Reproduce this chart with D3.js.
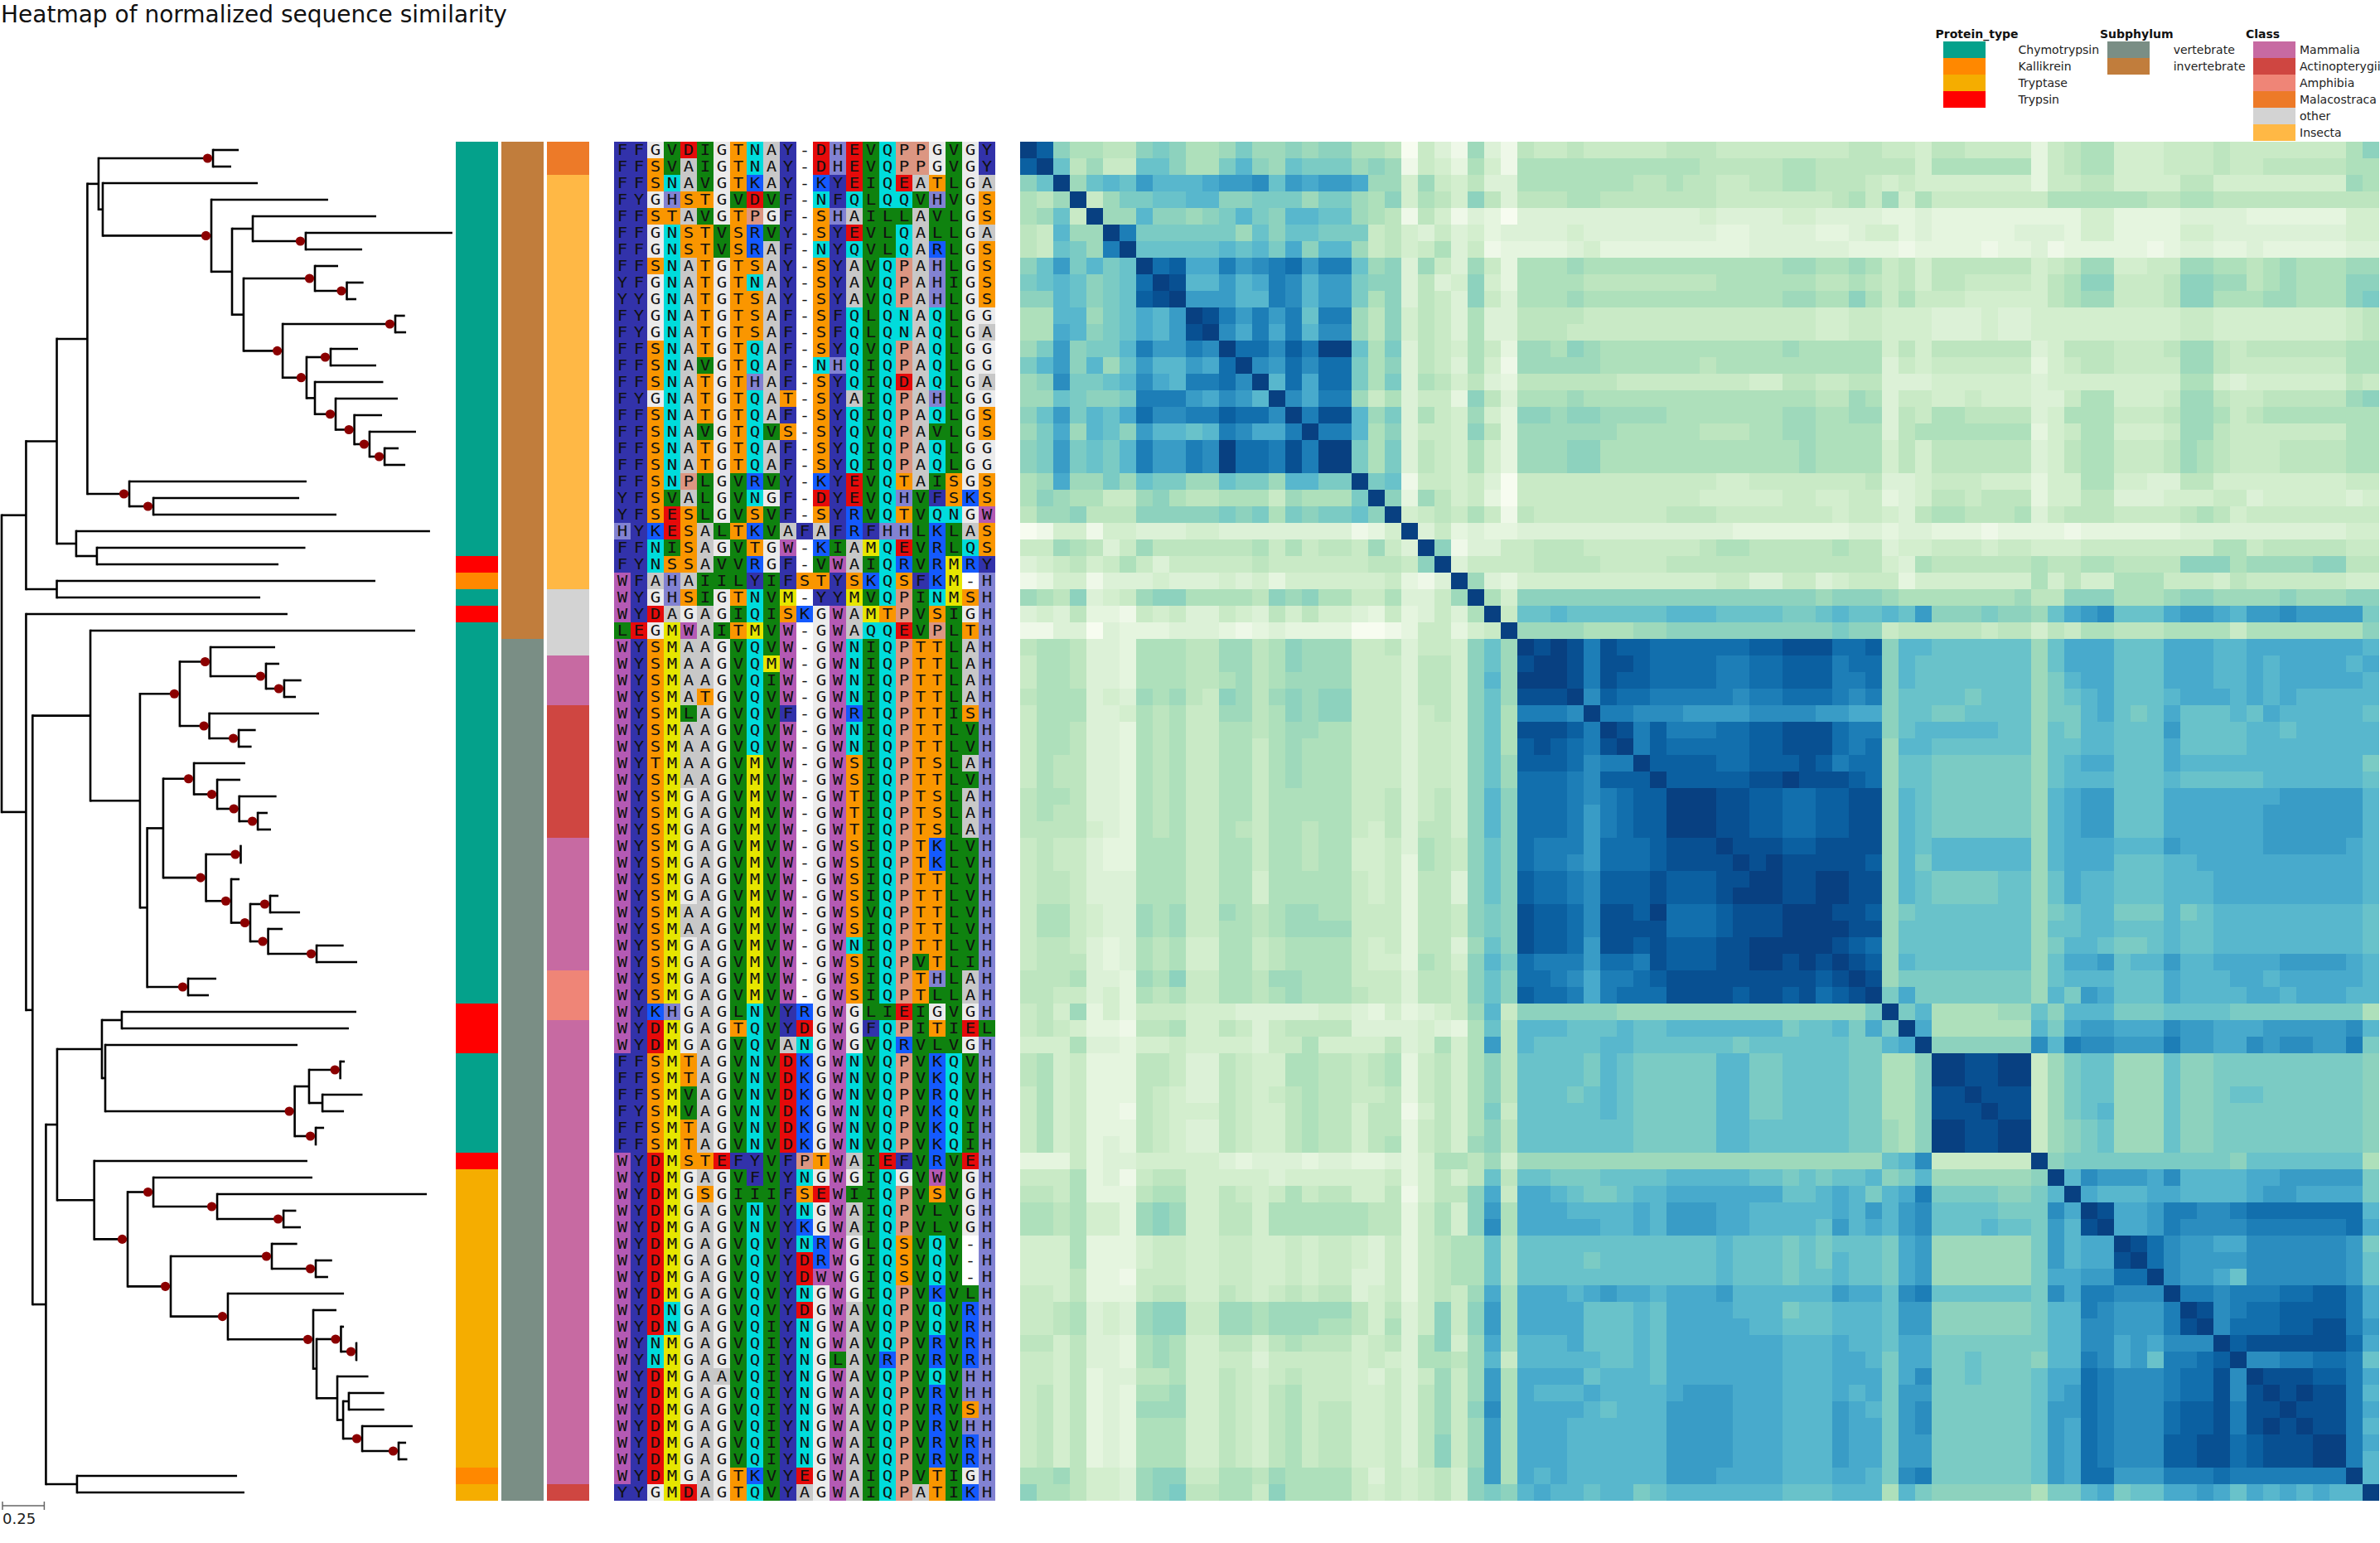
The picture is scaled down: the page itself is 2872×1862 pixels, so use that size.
<!DOCTYPE html>
<html>
<head>
<meta charset="utf-8">
<script src="https://d3js.org/d3.v7.min.js"></script>
<style>
  body { margin: 0; background: #fff; }
  svg { display: block; }
</style>
</head>
<body>
<script>
// alignment, one string per row, top to bottom
var msaRows = [
"FFGVDIGTNAY-DHEVQPPGVGY","FFSVAIGTNAY-DHEVQPPGVGY","FFSNAVGTKAY-KYEIQEATLGA","FYGHSTGVDVF-NFQLQQVHVGS",
"FFSTAVGTPGF-SHAILLAVLGS","FFGNSTVSRVY-SYEVLQALLGA","FFGNSTVSRAF-NYQVLQARLGS","FFSNATGTSAY-SYAVQPAHLGS",
"YFGNATGTNAY-SYAVQPAHIGS","YYGNATGTSAY-SYAVQPAHLGS","FYGNATGTSAF-SFQLQNAQLGG","FYGNATGTSAF-SFQLQNAQLGA",
"FFSNATGTQAF-SYQVQPAQLGG","FFSNAVGTQAF-NHQIQPAQLGG","FFSNATGTHAF-SYQIQDAQLGA","FYGNATGTQAT-SYAIQPAHLGG",
"FFSNATGTQAF-SYQIQPAQLGS","FFSNAVGTQVS-SYQVQPAVLGS","FFSNATGTQAF-SYQIQPAQLGG","FFSNATGTQAF-SYQIQPAQLGG",
"FFSNPLGVRVY-KYEVQTAISGS","YFSVALGVNGF-DYEVQHVFSKS","YFSESLGVSVF-SYRVQTVQNGW","HYKESALTKVAFAFRFHHLKLAS",
"FFNISAGVTGW-KIAMQEVRLQS","FYNSSAVVRGF-VWAIQRVRMRY","WFAHAIILYIFSTYSKQSFKM-H","WYGHSIGTNVM-YYMVQPINMSH",
"WYDAGAGIQISKGWAMTPVSIGH","LEGMWAITMVW-GWAQQEVPLTH","WYSMAAGVQVW-GWNIQPTTLAH","WYSMAAGVQMW-GWNIQPTTLAH",
"WYSMAAGVQIW-GWNIQPTTLAH","WYSMATGVQVW-GWNIQPTTLAH","WYSMLAGVQVF-GWRIQPTTISH","WYSMAAGVQVW-GWNIQPTTLVH",
"WYSMAAGVQVW-GWNIQPTTLVH","WYTMAAGVMVW-GWSIQPTSLAH","WYSMAAGVMVW-GWSIQPTTLVH","WYSMGAGVMVW-GWTIQPTSLAH",
"WYSMGAGVMVW-GWTIQPTSLAH","WYSMGAGVMVW-GWTIQPTSLAH","WYSMGAGVMVW-GWSIQPTKLVH","WYSMGAGVMVW-GWSIQPTKLVH",
"WYSMGAGVMVW-GWSIQPTTLVH","WYSMGAGVMVW-GWSIQPTTLVH","WYSMAAGVMVW-GWSVQPTTLVH","WYSMAAGVMVW-GWSIQPTTLVH",
"WYSMGAGVMVW-GWNIQPTTLVH","WYSMGAGVMVW-GWSIQPVTLIH","WYSMGAGVMVW-GWSIQPTHLAH","WYSMGAGVMVW-GWSIQPTLLAH",
"WYKHGAGLNVYRGWGLIEIGVGH","WYDMGAGTQVYDGWGFQPITIEL","WYDMGAGVQVANGWGVQRVLVGH","FFSMTAGVNVDKGWNVQPVKQVH",
"FFSMTAGVNVDKGWNVQPVKQVH","FFSMVAGVNVDKGWNVQPVRQVH","FYSMVAGVNVDKGWNVQPVKQVH","FFSMTAGVNVDKGWNVQPVKQIH",
"FFSMTAGVNVDKGWNVQPVKQIH","WYDMSTEFYVFPTWAIEFVRVEH","WYDMGAGVFVYNGWGIQGVWVGH","WYDMGSGIIIFSEWIIQPVSVGH",
"WYDMGAGVNVYNGWAIQPVLVGH","WYDMGAGVNVYKGWAIQPVLVGH","WYDMGAGVQVYNRWGLQSVQV-H","WYDMGAGVQVYDRWGIQSVQV-H",
"WYDMGAGVQVYDWWGIQSVQV-H","WYDMGAGVQVYNGWGIQPVKVLH","WYDNGAGVQVYDGWAVQPVQVRH","WYDNGAGVQIYNGWAVQPVQVRH",
"WYNMGAGVQIYNGWAVQPVRVRH","WYNMGAGVQIYNGLAVRPVRVRH","WYDMGAAVQIYNGWAVQPVQVHH","WYDMGAGVQIYNGWAVQPVRVHH",
"WYDMGAGVQIYNGWAVQPVRVSH","WYDMGAGVQIYNGWAVQPVRVHH","WYDMGAGVQIYNGWAIQPVRVRH","WYDMGAGVQIYNGWAVQPVRVRH",
"WYDMGAGTKVYEGWAIQPVTIGH","YYGMDAGTQVYAGWAIQPATIKH"
];

var residueColors = {
  D:"#e60a0a", E:"#e60a0a", M:"#e6e600", K:"#145aff", R:"#145aff", S:"#fa9600", T:"#fa9600",
  F:"#3232aa", Y:"#3232aa", N:"#00dcdc", Q:"#00dcdc", G:"#ebebeb", L:"#0f820f", V:"#0f820f",
  I:"#0f820f", A:"#c8c8c8", W:"#b45ab4", H:"#8282d2", P:"#dc9682", "-":"#ffffff"
};

// annotation tracks as [category, number of rows] runs
var proteinRuns = [["Chymotrypsin",25],["Trypsin",1],["Kallikrein",1],["Chymotrypsin",1],["Trypsin",1],
  ["Chymotrypsin",23],["Trypsin",3],["Chymotrypsin",6],["Trypsin",1],["Tryptase",18],["Kallikrein",1],["Tryptase",1]];
var subphylumRuns = [["invertebrate",30],["vertebrate",52]];
var classRuns = [["Malacostraca",2],["Insecta",25],["other",4],["Mammalia",3],["Actinopterygii",8],
  ["Mammalia",8],["Amphibia",3],["Mammalia",28],["Actinopterygii",1]];

var proteinNames = ["Chymotrypsin","Kallikrein","Tryptase","Trypsin"];
var proteinColors = ["#04a18b","#ff8800","#f5ad00","#ff0000"];
var subphylumNames = ["vertebrate","invertebrate"];
var subphylumColors = ["#7a8e85","#c17d3c"];
var classNames = ["Mammalia","Actinopterygii","Amphibia","Malacostraca","other","Insecta"];
var classColors = ["#c76aa2","#cf4641","#ef8577","#ed7a28","#d3d3d3","#ffb845"];

// tree: [distance from root, supported, child, child], a plain number is a tip's distance from root
var treeClades = [0, 0,
  [0.146, 0,
    [0.330, 0,
      [0.513, 0,
        [0.580, 0,
          [1.265, 1, 1.419, 1.374],
          [0.605, 0, 1.533,
            [1.255, 1, 1.954,
              [1.379, 0,
                [1.503, 0, 2.242, [1.820, 1, 2.698, 2.158]],
                [1.448, 0,
                  [1.875, 1, 2.014, [2.066, 1, 2.166, 2.123]],
                  [1.682, 1,
                    [2.356, 1, 2.414, 2.421],
                    [1.825, 1,
                      [1.969, 1, 2.133, 2.242],
                      [1.875, 0, 2.284,
                        [1.999, 1, 2.371,
                          [2.111, 1, 2.277,
                            [2.202, 1, 2.480, [2.292, 1, 2.376, 2.416]]]]]]]]]]]],
        [0.764, 1, 1.825, [0.908, 1, 1.781, 2.004]]],
      [0.446, 0, 2.564, [0.570, 0, 1.818, 1.657]]],
    [0.330, 0, 2.237, 1.548]],
  [0.146, 0, 1.711,
    [0.185, 0,
      [0.531, 0, 2.475,
        [0.828, 0,
          [1.066, 1,
            [1.250, 1, 1.637, [1.582, 1, 1.662, [1.691, 1, 1.794, 1.761]]],
            [1.243, 1, 1.900, [1.419, 1, 1.521, 1.496]]],
          [0.871, 0,
            [0.967, 0,
              [1.151, 1, 1.458,
                [1.290, 1, 1.429,
                  [1.422, 1, 1.645, [1.533, 1, 1.592, 1.612]]]],
              [1.223, 1,
                [1.431, 1, 1.433, 1.433],
                [1.374, 1, 1.424,
                  [1.488, 1,
                    [1.607, 1, 1.657, 1.786],
                    [1.595, 1, 1.682, [1.885, 1, 2.047, 2.128]]]]]],
            [1.116, 1, 1.285, 1.240]]]],
      [0.265, 0,
        [0.332, 0,
          [0.600, 0,
            [0.719, 0, 2.123, 2.078],
            [0.620, 0, 1.771,
              [1.754, 1,
                [1.840, 0, [2.027, 1, 2.054, 2.029], [1.920, 0, 2.160, 2.049]],
                [1.880, 1, 1.930, 1.882]]]],
          [0.554, 0, 1.830,
            [0.754, 1,
              [0.908, 1, 1.860, [1.290, 1, 2.545, [1.687, 1, 1.763, 1.791]]],
              [1.012, 1,
                [1.617, 1, 1.769, [1.880, 1, 1.978, 1.954]],
                [1.354, 1, 2.049,
                  [1.865, 1, 2.004,
                    [1.885, 0,
                      [2.031, 1, 2.049, [2.123, 1, 2.128, 2.128]],
                      [2.009, 0, 2.195,
                        [2.044, 0,
                          [2.078, 0, 2.290, 2.290],
                          [2.158, 1, 2.460, [2.376, 1, 2.421, 2.428]]]]]]]]]]],
        [0.451, 0, 1.409, 1.453]]]]
];

// similarity, one base-36 digit per cell, 0..k = 0..1
// first 30 rows, columns 0..row
var simLower = [
"k","ik","9bk","768k","78b5k","65c88k","65ba8gk","9beacabk","abcb9abhk","99cb9abijk",
"77cc8abdce k","77dc9abdce jk","8ae9aacgee gfk","ace9c8becc edhk","89faabcfdc gghfk",
"88ba99aggg edfeck","9beacbdhff ggihhfk","8ad8cb9ecc bcgfddgk","9aeabacgee gfkhhgjgk","9aeabacgee gfkhhgjgkk",
"78d88a8baa 88baa8ccaa k","7987755897 6677758777 ak","6889666999 99a9a7a9aa b9k",
"0144144333 4433333333 124k","5587635866 6666757566 5853k",
"3456457535 5555655555 56659k","1244133343 3343424444 445213k",
"8769345899 7777698977 5573358k","3436221545 3354364644 32523537k",
"1133032223 3321232222 001255245k"
];
// first 30 rows, columns 30..81
var simCross = [
"6556555556 6655555555 6655466555 5256774445 5565555555 79",
"7777777777 7666667766 6666477777 7256774445 5565566666 77",
"7777777667 6655667766 6545444444 4255664444 6644444444 87",
"6667766666 6655555556 7584755555 5577777766 7766666666 66",
"3333333333 3433334433 3322322222 2222442222 3333222222 44",
"3334333333 3322333322 3442322222 3332442222 4433333333 44",
"2223422222 2222333333 2221222212 2312222212 3322322222 33",
"7778777777 7777778877 8756466666 6456884455 8877678777 88",
"7777666666 6677777766 7656466555 5467995556 9988678777 99",
"7778777777 7777778877 9757555444 4467885556 9977788777 9a",
"6666555555 5555555544 5544433343 3444444444 5544444444 56",
"6665555555 5555555544 5544433343 3444444444 5544444444 56",
"8879877777 7777778777 7746466666 6346665556 8865666666 77",
"8888877777 7677777777 7735455555 5245665555 8865555555 77",
"6666665555 5555446655 6633344444 4344444444 7743444444 65",
"7778777777 7777777766 8735544544 4335774445 8865566666 89",
"9989988887 7777778877 8836577666 6347775556 8875677777 77",
"8888887777 7666778877 7736777777 7245774445 8865555555 77",
"8889977777 7777777877 7746466666 6346775556 8765556666 77",
"8889977777 7777777877 7746466666 6346775556 8765556666 77",
"5555555555 5544555555 5633455544 4244774433 6644444444 55",
"5555555555 5444445544 5523466566 6244663334 4455344444 34",
"6555555556 6655555554 5543677666 7356665555 6764555555 55",
"3333333333 3332222222 3323322212 2221222222 3333333333 44",
"5666555555 5677666667 6634455545 5444555555 5577566666 55",
"5666655556 6666666666 6643766666 6766776666 9997888899 66",
"4444444444 4455335534 5552444444 4746447775 5546555555 44",
"9999999999 9999999989 9987777777 8669997778 9988889888 99",
"bbcbbbbbbc ccbbbbaabc bbcbe999a9 98bdefbbbd eedceefeee ea",
"8888777889 999999999a 9956666656 6465776667 7775777777 79"
];
// rows 30..81, columns row..81
var simUpper = [
"kjkjgjiihh hhhhiijjjh hi9ccbbbbb b8bdddbbbd ddccdddddd dc",
"kkjgjjihh hhgghhiiig hh9cbbbbbb b8bdddbbbd ddccdcdddd cd",
"kjgjiihh hhgghhiiig gh9cbbbbbb b8acddbbbd ddccdcdddd dc",
"kfihhgg gggfgghhhg fg9bbbbabb b8abcdbbbc dddcdcdccc cc",
"kggfff eeeeffffee dd9bbaabbb b8aacdbabd bbbcbdcccc cb",
"kjgig gghhiijjjh gg9bcccccb b8baccbbbe bbbbccbccc cc",
"kgih hhhhiijjjh gh8ccbbbbb b8bbccbbbd bbbbcccccc cc",
"kii iihhiiijig hh8bbaaaaa a8bcddbbbd cccccccccc ca",
"ki iiiijjkjjj ih8bbaaaaa a8bcccbbbc bbbbbccccc cb",
"k kkjjiihhii jj8cbaaaaa a8cdeebbbd ddddddeeee ec",
"kkjjiihhii jj8cbaaaaa a8cdeebbbd dddddeeeee ec",
"kjjiihhii jj8cbaaaaa a8cdeebbbd dddddeeeee ec",
"kjjjiijj jj8cbccccc c8cdddccce dddddeeeee dc",
"kjkjjjj ji8caccccc c8cdddbbbc cddddddddd dc",
"kkjjkk jj8cbaaaab b8bdccbbbc ccdddddddd dc",
"kjjkk jj8cbaaaab b8bdccbbbc ccdddddddd dc",
"kkkj ji8abbbbbb b8abccaaac abcccccccc cb",
"kkk jj8bbbbbbb b8bbccbbbc bbcccccccc cb",
"kj ih8bbbbbbb b8accbaabc bbcccccccc cb",
"k ji8cbbbbbb b8bddebcce ccddddeeee dc",
"kj8aaaaaaa a8bcccbbbd cccddcdddd dc",
"kadaaaaaa a8caedbbbd ccccddcddd cc",
"kac77778 8b9cccaaab bbbaaaaaaa a7",
"kd77777 7cadeedddf eedddeeeee fc",
"k99999 9fcgffeeeg eeddfeffee ga",
"kkjjk k58abb888b 99aaaaaaaa a9",
"kjjk k58abb888b 99aaaaaaaa a9",
"kjj j58abb888b 99abbaaaaa a9",
"kj j58abc888b 99aaaaaaaa a9",
"k k589ab888b 99aaaaaaaa a9",
"k589ab888b 99aaaaaaaa a9",
"k9aaaaaaa aaa9bbbbbb b7",
"kcfeeedf ccccddeeee ea",
"kdcccdd ccccdeeddd da",
"kjddeg gffghhhhhh hc",
"kddeg ffffgggggg hd",
"kjhf eeddffffff ea",
"khf eeeeffffff eb",
"kf eedbffffff eb",
"k ggfggghhii gd",
"kjfghhiiii gd",
"kfhhhiijj ge",
"kijjjjjj hd",
"kffgghh gb",
"kjjjii gd",
"kjkjj gc",
"kjjj gd",
"kjj gc",
"kk gd",
"k gc",
"kc",
"k"
];

var titleText = "Heatmap of normalized sequence similarity";
var scaleBarValue = 0.25;

function expandRuns(runs) {
    var out = [];
    runs.forEach(function(r) {
        for (var i = 0; i < r[1]; i++) out.push(r[0]);
    });
    return out;
}

function clean(s) {
    return s.replace(/ /g, "");
}

function buildMatrix() {
    var n = msaRows.length;
    var m = d3.range(n).map(function() { return new Array(n).fill(0); });
    function put(i, j, c) {
        var v = parseInt(c, 36) / 20;
        m[i][j] = v;
        m[j][i] = v;
    }
    simLower.forEach(function(s, i) {
        clean(s).split("").forEach(function(c, j) { put(i, j, c); });
    });
    simCross.forEach(function(s, i) {
        clean(s).split("").forEach(function(c, j) { put(i, 30 + j, c); });
    });
    simUpper.forEach(function(s, k) {
        var i = 30 + k;
        clean(s).split("").forEach(function(c, j) { put(i, i + j, c); });
    });
    return m;
}

var svg = d3.select("body").append("svg")
    .attr("width", 2872)
    .attr("height", 1862)
    .attr("font-family", "'DejaVu Sans', sans-serif");

var rows = d3.range(msaRows.length);
var rowScale = d3.scaleBand().domain(rows).range([171, 1811]);

svg.append("text")
    .attr("x", 1).attr("y", 26.5)
    .attr("font-size", 28)
    .attr("fill", "#111")
    .text(titleText);

drawTree();
drawTracks();
drawMsa();
drawHeatmap();
drawLegends();

function drawTree() {
    var x = d3.scaleLinear().domain([0, 1]).range([2, 203.6]);
    var root = d3.hierarchy(treeClades, function(d) {
        return Array.isArray(d) ? d.slice(2) : null;
    });

    var tipIndex = 0;
    root.eachAfter(function(d) {
        d.dist = Array.isArray(d.data) ? d.data[0] : d.data;
        if (d.children) {
            d.y = (d.children[0].y + d.children[d.children.length - 1].y) / 2;
        } else {
            d.y = rowScale(tipIndex) + rowScale.bandwidth() / 2;
            tipIndex++;
        }
    });

    var g = svg.append("g").attr("fill", "none").attr("stroke", "#000").attr("stroke-width", 2.6);

    g.selectAll("path.stem")
        .data(root.descendants().slice(1))
        .join("path")
        .attr("class", "stem")
        .attr("d", function(d) { return "M" + x(d.parent.dist) + "," + d.y + "H" + x(d.dist); });

    g.selectAll("path.span")
        .data(root.descendants().filter(function(d) { return d.children; }))
        .join("path")
        .attr("class", "span")
        .attr("stroke-linecap", "square")
        .attr("d", function(d) {
            return "M" + x(d.dist) + "," + d.children[0].y + "V" + d.children[d.children.length - 1].y;
        });

    svg.append("g").selectAll("circle")
        .data(root.descendants().filter(function(d) { return d.children && d.data[1]; }))
        .join("circle")
        .attr("cx", function(d) { return x(d.dist) - 6.5; })
        .attr("cy", function(d) { return d.y; })
        .attr("r", 5.6)
        .attr("fill", "#8b0000");

    // scale bar
    var barY = 1817;
    var x0 = x(0) + 1, x1 = x(scaleBarValue) + 1;
    var bar = svg.append("g").attr("stroke", "#666").attr("stroke-width", 1.5);
    bar.append("line").attr("x1", x0).attr("x2", x1).attr("y1", barY).attr("y2", barY);
    [x0, x1].forEach(function(v) {
        bar.append("line").attr("x1", v).attr("x2", v).attr("y1", barY - 5).attr("y2", barY + 5);
    });
    svg.append("text")
        .attr("x", x0).attr("y", 1839)
        .attr("font-size", 18)
        .attr("fill", "#222")
        .text(scaleBarValue);
}

function drawTracks() {
    var color = d3.scaleOrdinal()
        .domain(proteinNames.concat(subphylumNames, classNames))
        .range(proteinColors.concat(subphylumColors, classColors));
    var tracks = [expandRuns(proteinRuns), expandRuns(subphylumRuns), expandRuns(classRuns)];
    var trackX = d3.scaleBand().domain([0, 1, 2]).range([550.4, 711.4]).paddingInner(4 / 55);

    var g = svg.selectAll("g.track")
        .data(tracks)
        .join("g")
        .attr("class", "track")
        .attr("transform", function(d, i) { return "translate(" + trackX(i) + ",0)"; });

    g.selectAll("rect")
        .data(function(d) { return d; })
        .join("rect")
        .attr("y", function(d, i) { return rowScale(i); })
        .attr("width", trackX.bandwidth())
        .attr("height", rowScale.bandwidth())
        .attr("shape-rendering", "crispEdges")
        .attr("fill", function(d) { return color(d); });
}

function drawMsa() {
    var cols = d3.range(msaRows[0].length);
    var colScale = d3.scaleBand().domain(cols).range([741, 1201]);
    var cells = [];
    msaRows.forEach(function(row, i) {
        row.split("").forEach(function(c, j) {
            cells.push({row: i, col: j, res: c});
        });
    });

    var g = svg.append("g");
    g.selectAll("rect")
        .data(cells)
        .join("rect")
        .attr("x", function(d) { return colScale(d.col); })
        .attr("y", function(d) { return rowScale(d.row); })
        .attr("width", colScale.bandwidth())
        .attr("height", rowScale.bandwidth())
        .attr("shape-rendering", "crispEdges")
        .attr("fill", function(d) { return residueColors[d.res]; });

    // letters in the reference are a bit wider than the plain mono face
    g.selectAll("text")
        .data(cells)
        .join("text")
        .attr("transform", function(d) {
            var cx = colScale(d.col) + colScale.bandwidth() / 2;
            var cy = rowScale(d.row) + rowScale.bandwidth() / 2 + 6.2;
            return "translate(" + cx + "," + cy + ") scale(1.22,1)";
        })
        .attr("text-anchor", "middle")
        .attr("font-family", "'DejaVu Sans Mono', monospace")
        .attr("font-size", 17)
        .attr("fill", "#111")
        .text(function(d) { return d.res; });
}

function drawHeatmap() {
    var matrix = buildMatrix();
    var heatX = d3.scaleBand().domain(rows).range([1231, 2871]);
    var color = d3.scaleSequential(d3.interpolateGnBu).domain([0, 1]);
    var cells = [];
    matrix.forEach(function(r, i) {
        r.forEach(function(v, j) { cells.push({row: i, col: j, value: v}); });
    });

    svg.append("g").selectAll("rect")
        .data(cells)
        .join("rect")
        .attr("x", function(d) { return heatX(d.col); })
        .attr("y", function(d) { return rowScale(d.row); })
        .attr("width", heatX.bandwidth())
        .attr("height", rowScale.bandwidth())
        .attr("shape-rendering", "crispEdges")
        .attr("fill", function(d) { return color(d.value); });
}

function drawLegends() {
    var legends = [
        {title: "Protein_type", names: proteinNames, colors: proteinColors, titleX: 2335.5, swatchX: 2344.6, labelX: 2435.5},
        {title: "Subphylum", names: subphylumNames, colors: subphylumColors, titleX: 2534, swatchX: 2543, labelX: 2622.7},
        {title: "Class", names: classNames, colors: classColors, titleX: 2710, swatchX: 2719, labelX: 2775}
    ];
    var legendY = d3.scaleBand().domain(d3.range(6)).range([50, 170]);

    legends.forEach(function(l) {
        var g = svg.append("g");
        g.append("text")
            .attr("x", l.titleX).attr("y", 46)
            .attr("font-size", 14)
            .attr("font-weight", "bold")
            .attr("fill", "#111")
            .text(l.title);
        g.selectAll("rect")
            .data(l.names)
            .join("rect")
            .attr("x", l.swatchX)
            .attr("y", function(d, i) { return legendY(i); })
            .attr("width", 51)
            .attr("height", legendY.bandwidth())
            .attr("shape-rendering", "crispEdges")
            .attr("fill", function(d, i) { return l.colors[i]; });
        g.selectAll("text.label")
            .data(l.names)
            .join("text")
            .attr("class", "label")
            .attr("x", l.labelX)
            .attr("y", function(d, i) { return legendY(i) + 15; })
            .attr("font-size", 14)
            .attr("fill", "#222")
            .text(function(d) { return d; });
    });
}
</script>
</body>
</html>
